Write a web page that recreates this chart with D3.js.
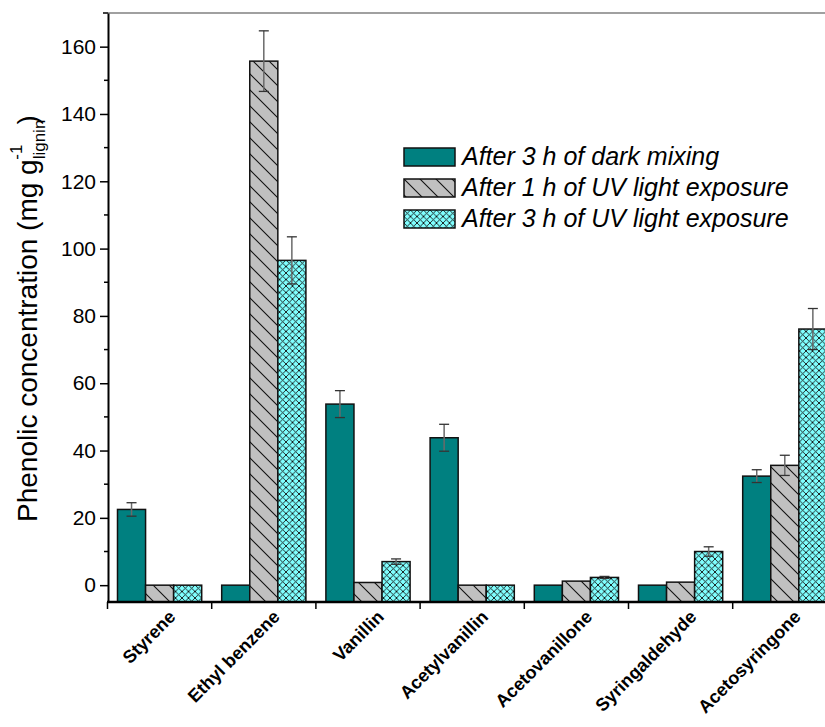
<!DOCTYPE html>
<html>
<head>
<meta charset="utf-8">
<script src="https://cdn.jsdelivr.net/npm/d3@7"></script>
<style>
  html, body { margin: 0; padding: 0; background: #fff; }
  svg { display: block; font-family: "Liberation Sans", Arial, sans-serif; }
</style>
</head>
<body>
<svg id="chart" width="825" height="727"></svg>
<script>
// Phenolic compounds released from lignin (mg per g lignin)
const categories = ["Styrene", "Ethyl benzene", "Vanillin", "Acetylvanillin",
                    "Acetovanillone", "Syringaldehyde", "Acetosyringone"];
const seriesNames = ["After 3 h of dark mixing",
                     "After 1 h of UV light exposure",
                     "After 3 h of UV light exposure"];
const darkMixing   = [22.5, 0, 53.8, 43.8, 0, 0, 32.4];
const darkErr      = [2.0, 0, 4.0, 4.0, 0, 0, 1.9];
const uv1h         = [0, 155.7, 0.8, 0, 1.2, 0.9, 35.6];
const uv1hErr      = [0, 9.0, 0, 0, 0, 0, 3.0];
const uv3h         = [0, 96.5, 7.0, 0, 2.3, 10.0, 76.1];
const uv3hErr      = [0, 7.0, 0.8, 0, 0.3, 1.4, 6.1];
const yTicks       = [0, 20, 40, 60, 80, 100, 120, 140, 160];
const yMinorTicks  = [10, 30, 50, 70, 90, 110, 130, 150];

const values = [darkMixing, uv1h, uv3h];
const errors = [darkErr, uv1hErr, uv3hErr];

const svg = d3.select("#chart");
const plotLeft = 108, plotBottom = 602, plotTop = 13;
const step = 104.2;

const x = d3.scaleBand().domain(categories)
  .range([plotLeft - 0.5, plotLeft - 0.5 + step * categories.length])
  .paddingInner(0).paddingOuter(0);
const xs = d3.scaleBand().domain(d3.range(3))
  .range([10, step - 10]).paddingInner(0).paddingOuter(0);
const y = d3.scaleLinear().domain([-5, 170]).range([plotBottom, plotTop]);

// fill patterns
const defs = svg.append("defs");
const hatch = defs.append("pattern").attr("id", "hatch")
  .attr("patternUnits", "userSpaceOnUse").attr("width", 16).attr("height", 16);
hatch.append("rect").attr("width", 16).attr("height", 16).attr("fill", "#c0c0c0");
hatch.append("path").attr("d", "M-4,-4 L20,20 M-4,12 L4,20 M12,-4 L20,4")
  .attr("stroke", "#111").attr("stroke-width", 1.1);

const cross = defs.append("pattern").attr("id", "cross")
  .attr("patternUnits", "userSpaceOnUse").attr("width", 6.5).attr("height", 6.5);
cross.append("rect").attr("width", 6.5).attr("height", 6.5).attr("fill", "#80ffff");
cross.append("path").attr("d", "M-1,-1 L7.5,7.5 M-1,7.5 L7.5,-1 M-1,5.5 L1,7.5 M5.5,-1 L7.5,1 M5.5,7.5 L7.5,5.5 M-1,1 L1,-1")
  .attr("stroke", "#111").attr("stroke-width", 0.9);

const fills = ["#008080", "url(#hatch)", "url(#cross)"];

// frame top line
svg.append("line").attr("x1", plotLeft).attr("x2", 825).attr("y1", plotTop).attr("y2", plotTop)
  .attr("stroke", "#808080").attr("stroke-width", 1.5);

// bars
const barData = [];
categories.forEach((c, i) => {
  for (let s = 0; s < 3; s++) {
    barData.push({ c, s, v: values[s][i], e: errors[s][i] });
  }
});

svg.append("g").selectAll("rect").data(barData).join("rect")
  .attr("x", d => x(d.c) + xs(d.s))
  .attr("width", xs.bandwidth())
  .attr("y", d => y(d.v))
  .attr("height", d => y(-5) - y(d.v))
  .attr("fill", d => fills[d.s])
  .attr("stroke", "#111")
  .attr("stroke-width", 1.5);

// error bars
const eb = svg.append("g").selectAll("g").data(barData.filter(d => d.e > 0)).join("g")
  .attr("transform", d => `translate(${x(d.c) + xs(d.s) + xs.bandwidth() / 2},0)`);
eb.append("line").attr("x1", 0).attr("x2", 0)
  .attr("y1", d => y(d.v + d.e)).attr("y2", d => y(d.v - d.e))
  .attr("stroke", "#6a6a6a").attr("stroke-width", 1.5);
eb.append("line").attr("x1", -5).attr("x2", 5)
  .attr("y1", d => y(d.v + d.e)).attr("y2", d => y(d.v + d.e))
  .attr("stroke", "#333").attr("stroke-width", 1.3);
eb.append("line").attr("x1", -5).attr("x2", 5)
  .attr("y1", d => y(d.v - d.e)).attr("y2", d => y(d.v - d.e))
  .attr("stroke", "#333").attr("stroke-width", 1.3);

// y axis
const yAxis = svg.append("g").attr("transform", `translate(${plotLeft},0)`)
  .call(d3.axisLeft(y).tickValues(yTicks).tickSize(8).tickPadding(4).tickSizeOuter(0));
yAxis.select(".domain").attr("stroke", "#000").attr("stroke-width", 2);
yAxis.selectAll(".tick line").attr("stroke", "#000").attr("stroke-width", 1.5);
yAxis.selectAll(".tick text").attr("font-size", 21).attr("fill", "#000")
  .attr("font-family", "Liberation Sans, Arial, sans-serif");
yAxis.selectAll(".minor").data(yMinorTicks).join("line").attr("class", "minor")
  .attr("x1", -4).attr("x2", 0).attr("y1", d => y(d)).attr("y2", d => y(d))
  .attr("stroke", "#000").attr("stroke-width", 1.5);
yAxis.append("line").attr("x1", -5).attr("x2", 0).attr("y1", plotTop).attr("y2", plotTop)
  .attr("stroke", "#000").attr("stroke-width", 1.5);

// x axis: ticks on group boundaries
const xAxis = svg.append("g").attr("transform", `translate(0,${plotBottom})`);
xAxis.append("line").attr("x1", plotLeft - 1).attr("x2", 825).attr("y1", 0).attr("y2", 0)
  .attr("stroke", "#000").attr("stroke-width", 2.5);
xAxis.selectAll(".bound").data(categories).join("line").attr("class", "bound")
  .attr("x1", d => x(d)).attr("x2", d => x(d)).attr("y1", 0).attr("y2", 7)
  .attr("stroke", "#000").attr("stroke-width", 1.5);
xAxis.selectAll(".lbl").data(categories).join("text").attr("class", "lbl")
  .attr("transform", d => `translate(${x(d) + step / 2 + 17},${16}) rotate(-45)`)
  .attr("text-anchor", "end")
  .attr("font-size", 18).attr("font-weight", "bold").attr("fill", "#000")
  .text(d => d);

// y axis title
const yt = svg.append("text")
  .attr("transform", "translate(37,522) rotate(-90)")
  .attr("text-anchor", "start").attr("font-size", 28).attr("fill", "#000");
yt.append("tspan").text("Phenolic concentration (mg g");
yt.append("tspan").attr("font-size", 17).attr("dy", 8).text("lignin");
yt.append("tspan").attr("font-size", 17).attr("dy", -23).attr("dx", -40).text("-1");
yt.append("tspan").attr("dy", 15).attr("dx", 20).text(")");

// legend
const legend = svg.append("g").attr("transform", "translate(404,148)");
const li = legend.selectAll("g").data(seriesNames).join("g")
  .attr("transform", (d, i) => `translate(0,${i * 31})`);
li.append("rect").attr("width", 51).attr("height", 18)
  .attr("fill", (d, i) => fills[i]).attr("stroke", "#111").attr("stroke-width", 1.5);
li.append("text").attr("x", 58).attr("y", 17).attr("font-size", 25)
  .attr("font-style", "italic").attr("fill", "#000").text(d => d);
</script>
</body>
</html>
